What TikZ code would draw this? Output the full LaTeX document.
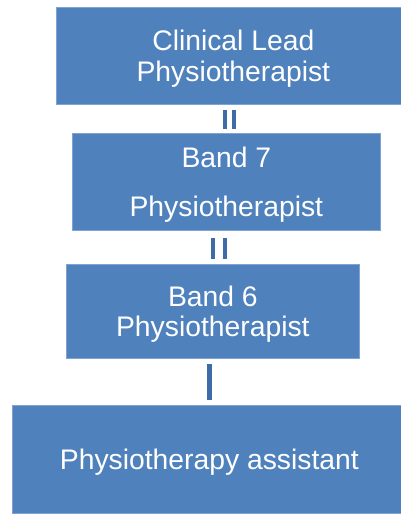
\documentclass[tikz,border=0pt]{standalone}
\usepackage{fontspec}
\setmainfont{Liberation Sans}
\definecolor{boxblue}{HTML}{4F81BD}
\definecolor{boxedge}{HTML}{7FA3D2}
\definecolor{barblue}{HTML}{3D6CA6}
\begin{document}
\begin{tikzpicture}[x=1pt,y=-1pt,
  rolebox/.style={fill=boxblue, draw=boxedge, line width=0.7pt, text=white, inner sep=0pt,
    align=center, font=\fontsize{28.3}{30.5}\selectfont, anchor=north west, text depth=-2pt},
  bar/.style={draw=barblue, line width=4.2pt}]
\useasboundingbox (0,0) rectangle (400,515);
\node[rolebox, minimum width=354, minimum height=97] (b1) at (56,7) {Clinical Lead\\Physiotherapist};
\node[rolebox, minimum width=308, minimum height=97] (b2) at (72,133) {Band 7\\[19pt]Physiotherapist};
\node[rolebox, minimum width=293, minimum height=94] (b3) at (66,264) {Band 6\\Physiotherapist};
\node[rolebox, minimum width=394, minimum height=108] (b4) at (12,405) {Physiotherapy assistant};
\coordinate (x1a) at (225,0);
\coordinate (x1b) at (234,0);
\coordinate (x2a) at (213,0);
\coordinate (x2b) at (225,0);
\coordinate (x3) at (209.5,0);
\draw[bar, shorten <=5pt, shorten >=4pt] (b1.south -| x1a) -- (b2.north -| x1a);
\draw[bar, shorten <=5pt, shorten >=4pt] (b1.south -| x1b) -- (b2.north -| x1b);
\draw[bar, shorten <=7pt, shorten >=5pt] (b2.south -| x2a) -- (b3.north -| x2a);
\draw[bar, shorten <=7pt, shorten >=5pt] (b2.south -| x2b) -- (b3.north -| x2b);
\draw[bar, line width=5pt, shorten <=5pt, shorten >=5pt] (b3.south -| x3) -- (b4.north -| x3);
\end{tikzpicture}
\end{document}
